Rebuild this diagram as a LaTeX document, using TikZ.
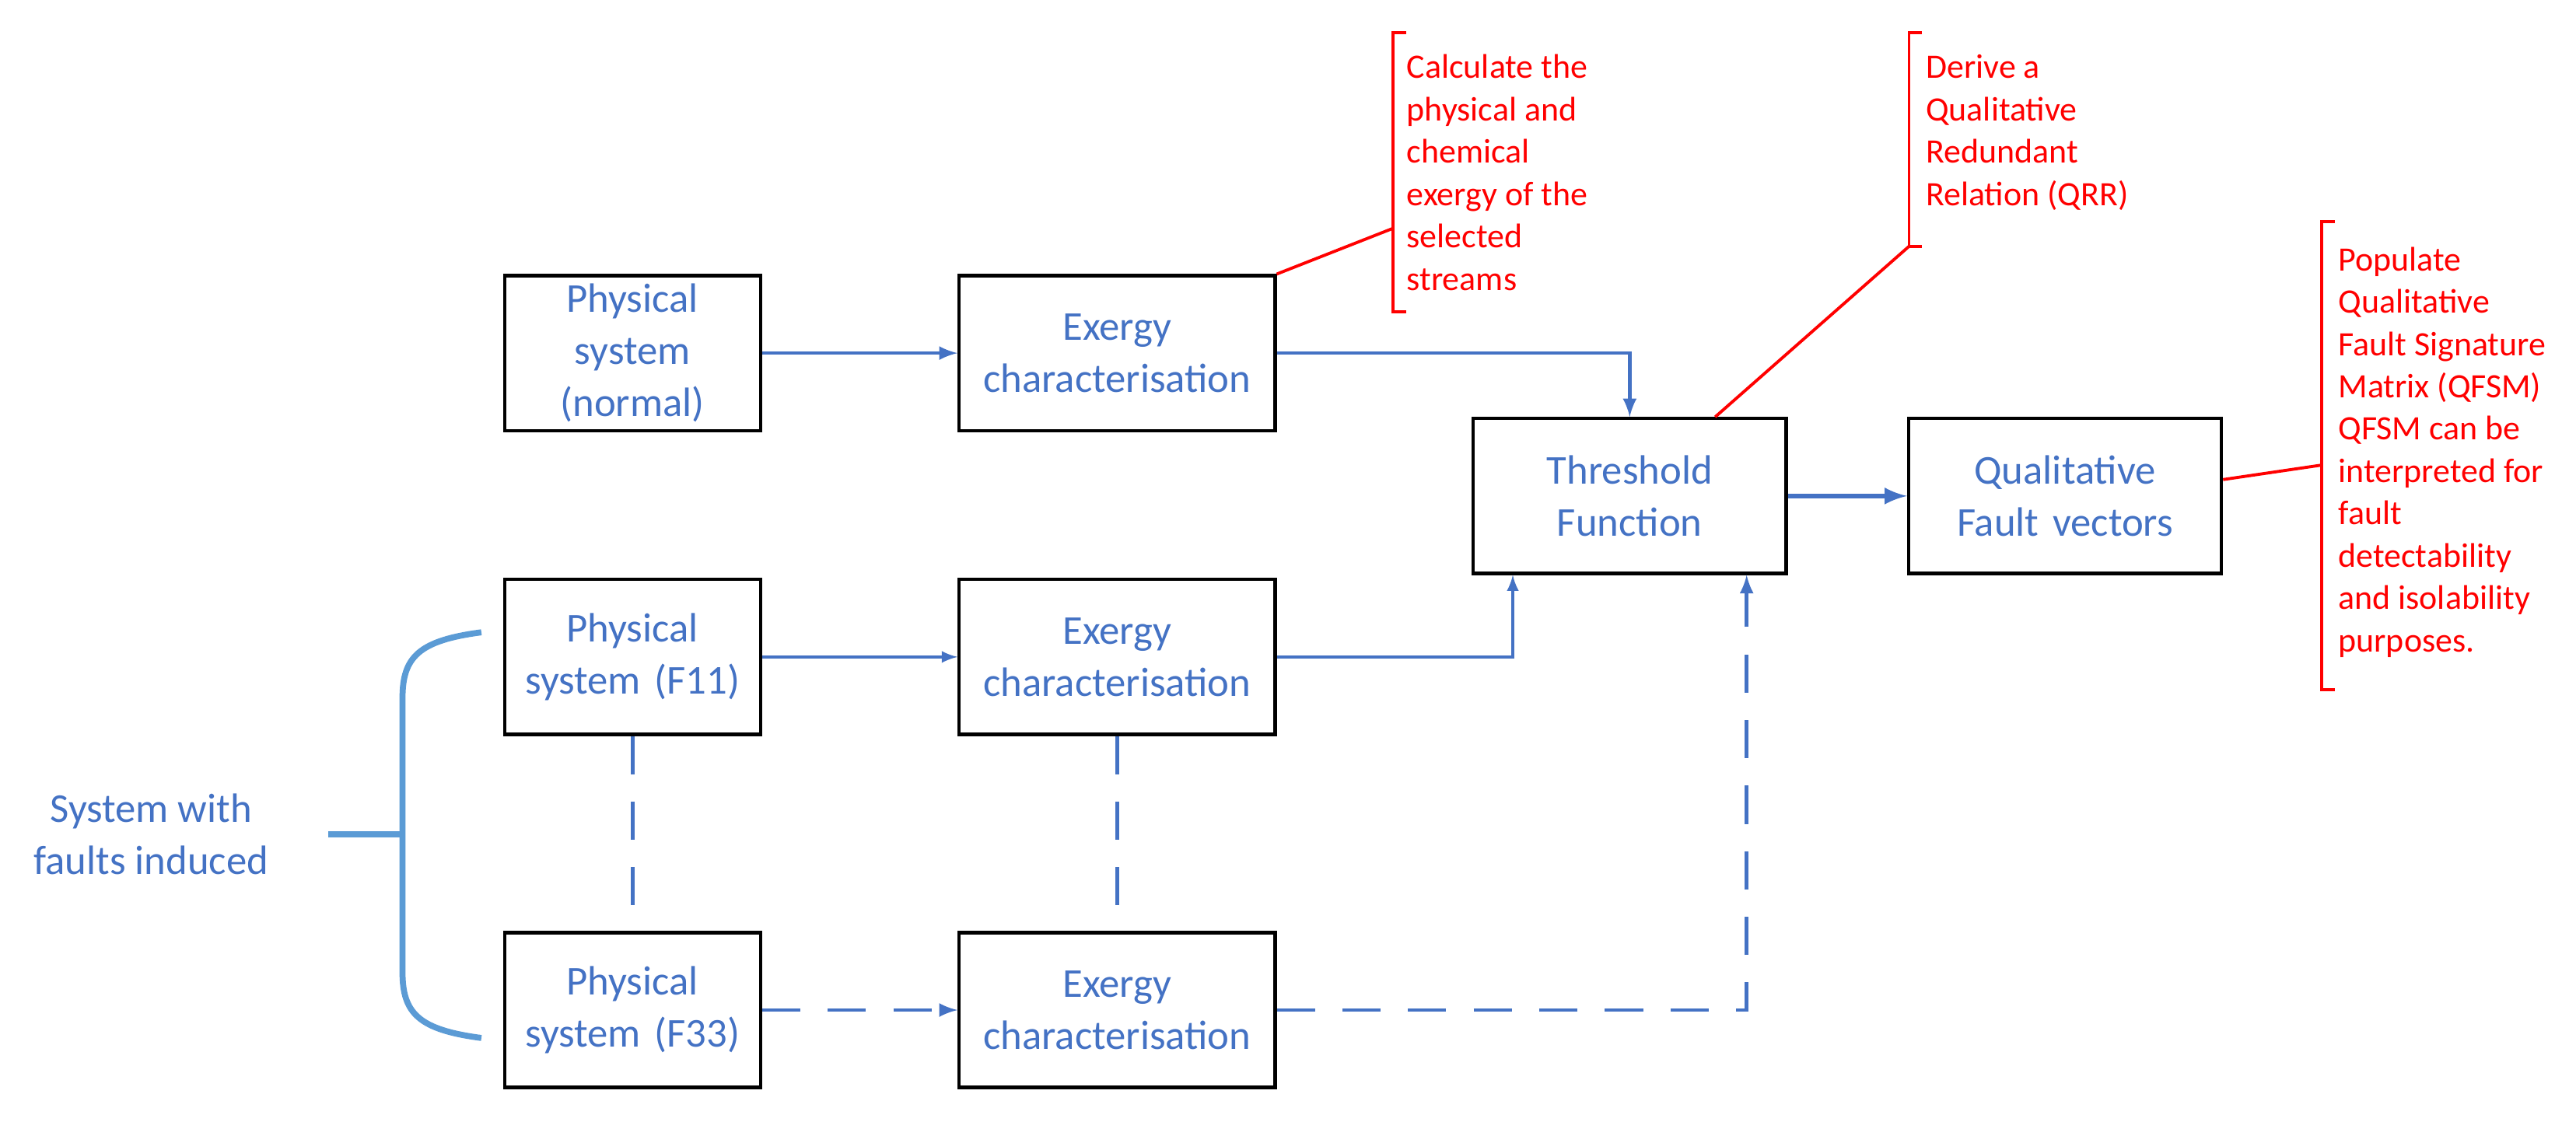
\documentclass[tikz,border=0pt]{standalone}
\usepackage{fontspec}
\setmainfont{Carlito}
\usetikzlibrary{calc}
\definecolor{txtblue}{HTML}{4472C4}
\definecolor{bracecol}{HTML}{5B9BD5}
\tikzset{
  blk/.style={draw=black, line width=1.2pt, text=txtblue, align=center, font=\fontsize{15}{19}\selectfont, minimum height=1.99cm, inner sep=2pt},
  phys/.style={blk, minimum width=3.29cm, text width=3.1cm},
  exer/.style={blk, minimum width=4.06cm, text width=3.9cm},
  flow/.style={draw=txtblue, line width=1.3pt, -latex},
  dflow/.style={flow, dash pattern=on 14pt off 10pt},
  dlink/.style={draw=txtblue, line width=1.3pt, dash pattern=on 14pt off 10pt},
  note/.style={text=red, align=left, anchor=north west, font=\fontsize{12.5}{15.5}\selectfont, inner sep=0pt},
  redline/.style={draw=red, line width=1.1pt}
}
\begin{document}
\begin{tikzpicture}[x=0.02112cm, y=-0.02112cm]
\useasboundingbox (0,0) rectangle (1568,683);
\node[phys] (Normal) at (385,215) {Physical\\system\\(normal)};
\node[exer] (ExNormal) at (680,215) {Exergy\\characterisation};
\node[phys] (F11) at (385,400) {Physical\\system (F11)};
\node[exer] (ExF11) at (680,400) {Exergy\\characterisation};
\node[phys] (F33) at (385,615) {Physical\\system (F33)};
\node[exer] (ExF33) at (680,615) {Exergy\\characterisation};
\node[blk, minimum width=4.02cm, text width=3.8cm] (Thresh) at (992,302) {Threshold\\Function};
\node[blk, minimum width=4.02cm, text width=3.8cm] (Vectors) at (1257,302) {Qualitative\\Fault vectors};
\node[text=txtblue, align=center, font=\fontsize{15}{19}\selectfont] (Faults) at (92,508) {System with\\faults induced};

\coordinate (ThrIn2) at ($(Thresh.south west)!0.13!(Thresh.south east)$);
\coordinate (ThrIn3) at ($(Thresh.south west)!0.87!(Thresh.south east)$);

\draw[flow] (Normal) -- (ExNormal);
\draw[flow] (ExNormal.east) -| (Thresh.north);
\draw[flow, line width=1pt] (F11) -- (ExF11);
\draw[flow, line width=1pt] (ExF11.east) -| (ThrIn2);
\draw[dflow] (F33) -- (ExF33);
\draw[dflow] (ExF33.east) -| (ThrIn3);
\draw[flow, line width=1.8pt] (Thresh) -- (Vectors);
\draw[dlink] (F11) -- (F33);
\draw[dlink] (ExF11) -- (ExF33);

% brace for faulty systems
\coordinate (BraceTop) at (293,385);
\coordinate (BraceBot) at (293,632);
\coordinate (BraceMid) at (245,508);
\coordinate (BraceEnd) at (200,508);
\draw[bracecol, line width=2.2pt] (BraceTop) .. controls (255,390) and (245,400) .. (245,425) -- (245,592) .. controls (245,617) and (255,627) .. (BraceBot);
\draw[bracecol, line width=2.2pt] (BraceEnd) -- (BraceMid);

% annotations
\draw[redline] (856,20) -- (848,20) -- coordinate[pos=0.7] (Note1) (848,190) -- (856,190);
\node[note] (Text1) at (856,33) {Calculate the\\physical and\\chemical\\exergy of the\\selected\\streams};
\draw[redline] (ExNormal.north east) -- (Note1);
\draw[redline] (1170,20) -- (1162,20) -- coordinate[pos=1] (Note2) (1162,150) -- (1170,150);
\node[note] (Text2) at (1172,33) {Derive a\\Qualitative\\Redundant\\Relation (QRR)};
\draw[redline] ($(Thresh.north)+(52,0)$) -- (Note2);
\draw[redline] (1421,135) -- (1413,135) -- coordinate[pos=0.52] (Note3) (1413,420) -- (1421,420);
\node[note] (Text3) at (1423,150) {Populate\\Qualitative\\Fault Signature\\Matrix (QFSM)\\QFSM can be\\interpreted for\\fault\\detectability\\and isolability\\purposes.};
\draw[redline] ($(Vectors.east)+(0,-10)$) -- (Note3);
\end{tikzpicture}
\end{document}
